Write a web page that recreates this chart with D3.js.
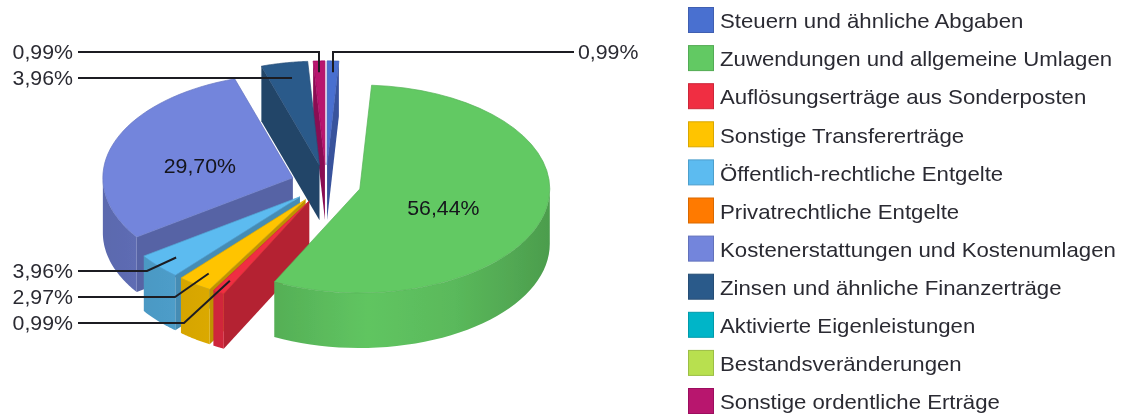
<!DOCTYPE html>
<html><head><meta charset="utf-8">
<script src="https://cdn.jsdelivr.net/npm/d3@7"></script>
<style>html,body{margin:0;padding:0;background:#fff}svg{display:block}text{font-family:"Liberation Sans",Arial,sans-serif;fill:#2b2b33}</style>
</head><body><svg id="c" width="1124" height="418"></svg>
<script>
const categories=["Steuern und ähnliche Abgaben","Zuwendungen und allgemeine Umlagen","Auflösungserträge aus Sonderposten","Sonstige Transfererträge","Öffentlich-rechtliche Entgelte","Privatrechtliche Entgelte","Kostenerstattungen und Kostenumlagen","Zinsen und ähnliche Finanzerträge","Aktivierte Eigenleistungen","Bestandsveränderungen","Sonstige ordentliche Erträge"];
const values=[0.99,56.44,0.99,2.97,3.96,0,29.70,3.96,0,0,0.99];
const colors=["#4a6fd0","#62c963","#f02d43","#ffc400","#5cbbf0","#ff7a00","#7385dc","#2c5a8a","#00b5c8","#b8e050","#b8126e"];
const paintOrder=[0,10,7,6,4,3,2,1];
const fmt=v=>v.toFixed(2).replace(".",",")+"%";

const cx=326,cy=184,rx=190,ry=104,depth=55,explode=35;
const svg=d3.select("#c");
const defs=svg.append("defs");
defs.append("filter").attr("id","soft").attr("x","-2%").attr("y","-2%").attr("width","104%").attr("height","104%")
  .append("feGaussianBlur").attr("stdDeviation",0.75);
const root=svg.append("g").attr("filter","url(#soft)");

const pie=d3.pie().sort(null).value(d=>d).startAngle(0).endAngle(2*Math.PI);
const arcs=pie(values);
const sx=d3.scaleLinear().domain([-1,1]).range([-rx,rx]);
const sy=d3.scaleLinear().domain([-1,1]).range([-ry,ry]);
const centre=a=>{const m=(a.startAngle+a.endAngle)/2;return[cx+sx(Math.sin(m))*explode/rx,cy-sy(Math.cos(m))*explode/rx];};
const pt=(a,t,k=1,dz=0)=>{const c=centre(a);return[c[0]+k*sx(Math.sin(t)),c[1]-k*sy(Math.cos(t))+dz];};
const line=d3.line();
const dark=(col,t)=>d3.interpolateRgb(col,"#000")(t);
const sweep=(t0,t1)=>d3.range(0,41).map(i=>t0+(t1-t0)*i/40);

paintOrder.forEach(i=>{
  const a=arcs[i],col=colors[i],c=centre(a);
  const g=root.append("g");
  const id="wall"+i;
  const lg=defs.append("linearGradient").attr("id",id).attr("gradientUnits","userSpaceOnUse")
    .attr("x1",c[0]-rx).attr("x2",c[0]+rx).attr("y1",0).attr("y2",0);
  [[0,.21],[.25,.14],[.52,.02],[.75,.08],[1,.22]].forEach(s=>lg.append("stop").attr("offset",s[0]).attr("stop-color",dark(col,s[1])));
  const face=dark(col,.25);
  const quad=t=>[[c[0],c[1]],pt(a,t),pt(a,t,1,depth),[c[0],c[1]+depth]];
  if(Math.sin(a.endAngle)>0) g.append("path").attr("d",line(quad(a.endAngle))+"Z").attr("fill",face);
  if(Math.sin(a.startAngle)<0) g.append("path").attr("d",line(quad(a.startAngle))+"Z").attr("fill",face);
  const t0=Math.max(a.startAngle,Math.PI/2),t1=Math.min(a.endAngle,1.5*Math.PI);
  if(t1>t0){
    const ang=sweep(t0,t1);
    const pts=ang.map(t=>pt(a,t)).concat(ang.slice().reverse().map(t=>pt(a,t,1,depth)));
    g.append("path").attr("d",line(pts)+"Z").attr("fill",`url(#${id})`);
  }
  const top=[c].concat(sweep(a.startAngle,a.endAngle).map(t=>pt(a,t)));
  g.append("path").attr("d",line(top)+"Z").attr("fill",col).attr("stroke",dark(col,.12)).attr("stroke-width",.7);
});

const fs=20,pctStretch=1.065,legendStretch=1.11;
const label=(x,y,str,anchor,stretch,fill)=>{
  const t=root.append("text").attr("transform",`translate(${x},${y}) scale(${stretch},1)`)
    .attr("dy",".36em").attr("font-size",fs).attr("text-anchor",anchor).text(str);
  if(fill) t.style("fill",fill);
};
const mid=a=>(a.startAngle+a.endAngle)/2;
const leaders=[
 {i:10,y:52,elbow:319,side:-1,vertical:true,k:.89},
 {i:7,y:78,side:-1,k:.78,flat:true},
 {i:4,y:271,elbow:147,side:-1,k:.875},
 {i:3,y:297,elbow:175,side:-1,k:.875},
 {i:2,y:323,elbow:184,side:-1,k:.875},
 {i:0,y:52,elbow:333,side:1,vertical:true,k:.89}];
const leftEnd=78,rightEnd=574;
leaders.forEach(l=>{
  const a=arcs[l.i],e=pt(a,mid(a),l.k);
  const start=l.side<0?leftEnd:rightEnd;
  const path=l.vertical?[[start,l.y],[l.elbow,l.y],[l.elbow,e[1]]]:l.flat?[[start,l.y],[e[0],l.y]]:[[start,l.y],[l.elbow,l.y],e];
  root.append("path").attr("d",line(path)).attr("fill","none").attr("stroke","#1e1e24").attr("stroke-width",2);
  label(l.side<0?73:578,l.y,fmt(values[l.i]),l.side<0?"end":"start",pctStretch);
});
[[1,.45,7,1],[6,.5,5,-3]].forEach(([i,k,dy,dx])=>{
  const a=arcs[i],p=pt(a,mid(a),k);
  label(p[0]+dx,p[1]+dy,fmt(values[i]),"middle",pctStretch,"#14141c");
});

const ly=d3.scalePoint().domain(d3.range(categories.length)).range([20,401]);
categories.forEach((n,i)=>{
  root.append("rect").attr("x",688.5).attr("y",ly(i)-12.5).attr("width",25).attr("height",25)
    .attr("fill",colors[i]).attr("stroke",dark(colors[i],.15)).attr("stroke-width",1);
  label(720,ly(i)+1,n,"start",legendStretch);
});
</script></body></html>
